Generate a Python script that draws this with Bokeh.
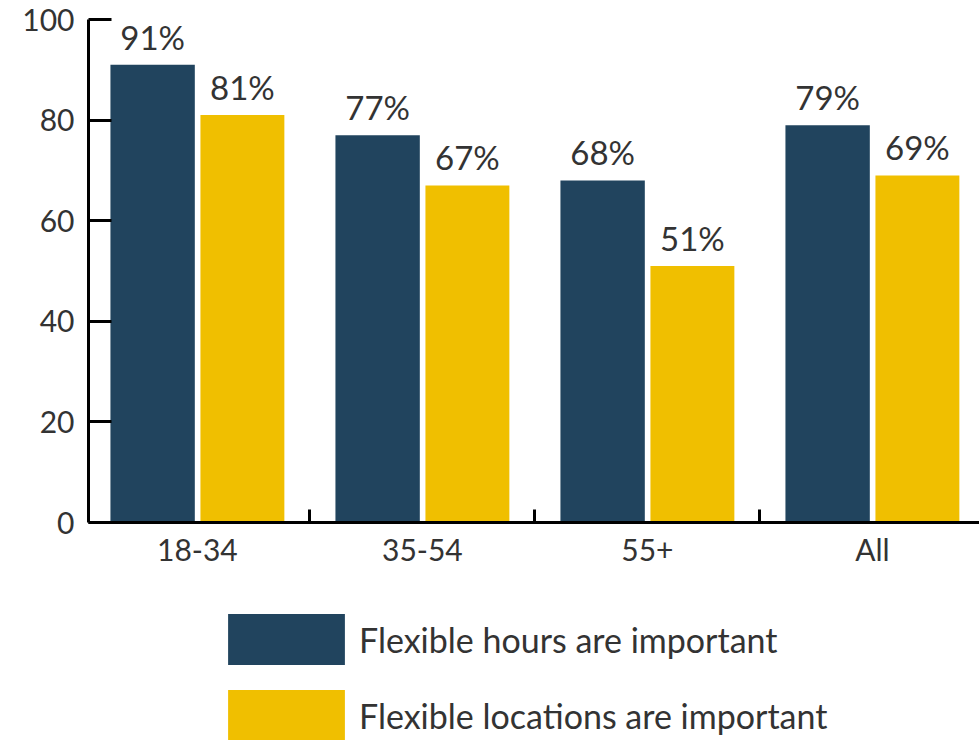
from bokeh.plotting import figure
from bokeh.layouts import column
from bokeh.models import ColumnDataSource, Range1d, FixedTicker, Legend, LegendItem, LabelSet
from bokeh.transform import dodge
from bokeh.core.properties import value
from bokeh.embed import file_html
from bokeh.resources import INLINE

categories = ["18-34", "35-54", "55+", "All"]
hours = [91, 77, 68, 79]
locations = [81, 67, 51, 69]
series_names = ["Flexible hours are important", "Flexible locations are important"]
y_ticks = [0, 20, 40, 60, 80, 100]

DARK = "#21445E"
YELLOW = "#F0BF00"
TEXT = "#333333"
FONT = "Lato"

xc = [i + 0.5 for i in range(len(categories))]
src = ColumnDataSource(dict(
    x=xc, cat=categories, hours=hours, locations=locations,
    hours_lbl=[f"{v}%" for v in hours],
    loc_lbl=[f"{v}%" for v in locations],
))

XR = (0.016, 3.976)

p = figure(width=979, height=590, output_backend="svg", toolbar_location=None,
           x_range=Range1d(*XR), y_range=Range1d(0, 100),
           min_border_left=88, min_border_right=0, min_border_top=19,
           min_border_bottom=68)
p.outline_line_color = None
p.xgrid.visible = False
p.ygrid.visible = False
p.background_fill_color = "white"
p.border_fill_color = "white"

p.vbar(x=dodge("x", -0.199, range=p.x_range), top="hours", width=0.375,
       bottom=0, source=src, fill_color=DARK, line_color=None)
p.vbar(x=dodge("x", 0.2, range=p.x_range), top="locations", width=0.373,
       bottom=0, source=src, fill_color=YELLOW, line_color=None)

for col, lbl, off in (("hours", "hours_lbl", -0.199), ("locations", "loc_lbl", 0.2)):
    ls = LabelSet(x=dodge("x", off, range=p.x_range), y=col, text=lbl, source=src,
                  text_align="center", text_baseline="alphabetic", y_offset=15,
                  text_font=value(FONT), text_font_size="33px", text_color=TEXT)
    p.add_layout(ls)

# y axis
ya = p.yaxis[0]
ya.ticker = FixedTicker(ticks=y_ticks)
ya.axis_line_width = 3
ya.axis_line_color = "black"
ya.major_tick_line_width = 3
ya.major_tick_line_color = "black"
ya.major_tick_in = 23
ya.major_tick_out = 0
ya.minor_tick_line_color = None
ya.major_label_standoff = 14
ya.major_label_text_font = FONT
ya.major_label_text_font_size = "30px"
ya.major_label_text_color = TEXT

# x axis
xa = p.xaxis[0]
xa.ticker = FixedTicker(ticks=xc, minor_ticks=[1, 2, 3])
xa.major_label_overrides = {x: c for x, c in zip(xc, categories)}
xa.axis_line_width = 3
xa.axis_line_color = "black"
xa.major_tick_line_color = None
xa.major_tick_in = 0
xa.major_tick_out = 0
xa.minor_tick_line_width = 3
xa.minor_tick_line_color = "black"
xa.minor_tick_in = 13
xa.minor_tick_out = 0
xa.major_label_standoff = 8
xa.major_label_text_font = FONT
xa.major_label_text_font_size = "30px"
xa.major_label_text_color = TEXT

# legend panel below the chart (its y view lies far above the data,
# so the series renderers only supply the legend swatches)
lp = figure(width=979, height=150, output_backend="svg", toolbar_location=None,
            x_range=Range1d(*XR), y_range=Range1d(1000, 1001),
            x_axis_type=None, y_axis_type=None,
            min_border_left=88, min_border_right=0, min_border_top=0,
            min_border_bottom=0)
lp.outline_line_color = None
lp.background_fill_color = "white"
lp.border_fill_color = "white"
l1 = lp.vbar(x="x", top="hours", width=0.375, source=src, fill_color=DARK, line_color=None)
l2 = lp.vbar(x="x", top="locations", width=0.375, source=src, fill_color=YELLOW, line_color=None)

legend = Legend(items=[LegendItem(label=series_names[0], renderers=[l1]),
                       LegendItem(label=series_names[1], renderers=[l2])],
                location=(125, -7), orientation="vertical",
                glyph_width=146, glyph_height=64, spacing=12,
                label_standoff=0, padding=0, margin=0,
                border_line_color=None, background_fill_alpha=0,
                label_text_font=FONT, label_text_font_size="34px",
                label_text_color=TEXT, label_height=64)
lp.add_layout(legend, "center")

layout = column(p, lp, spacing=0)
open("out.html", "w").write(file_html(layout, INLINE))
